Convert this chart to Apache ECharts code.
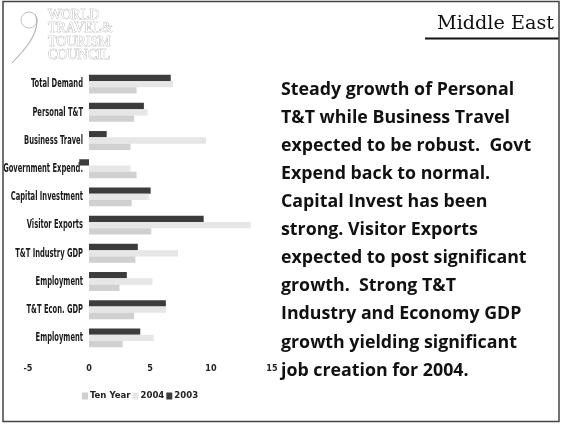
<!DOCTYPE html>
<html>
<head>
  <meta charset="utf-8">
  <script src="https://cdn.jsdelivr.net/npm/echarts@6/dist/echarts.min.js"></script>
  <style>
    html, body { margin: 0; padding: 0; background: #fff; }
    #main { width: 561px; height: 424px; }
  </style>
</head>
<body>
  <div id="main"></div>
  <script type="text/javascript">
    // categories (top to bottom)
    var categories = ['Total Demand', 'Personal T&T', 'Business Travel', 'Government Expend.',
      'Capital Investment', 'Visitor Exports', 'T&T Industry GDP', 'Employment',
      'T&T Econ. GDP', 'Employment '];
    // growth values
    var y2003 = [6.7, 4.5, 1.45, -0.8, 5.05, 9.4, 4.0, 3.1, 6.3, 4.2];
    var y2004 = [6.9, 4.8, 9.6, 3.4, 4.9, 13.25, 7.3, 5.2, 6.3, 5.3];
    var tenYear = [3.9, 3.7, 3.4, 3.9, 3.5, 5.1, 3.8, 2.5, 3.7, 2.75];
    var xTicks = [-5, 0, 5, 10, 15];

    var note = ['Steady growth of Personal', 'T&T while Business Travel',
      'expected to be robust.  Govt', 'Expend back to normal.',
      'Capital Invest has been', 'strong. Visitor Exports',
      'expected to post significant', 'growth.  Strong T&T',
      'Industry and Economy GDP', 'growth yielding significant',
      'job creation for 2004.'];

    var narrow = '"Liberation Sans Narrow", "DejaVu Sans Condensed", sans-serif';
    var serif = '"DejaVu Serif", "Liberation Serif", serif';

    // category labels drawn squeezed, positioned by the y axis scale
    function renderLabel(params, api) {
      var p = api.coord([0, api.value(1)]);
      var i = api.value(1);
      return {
        type: 'text', x: p[0] - 6, y: p[1], scaleX: 0.6,
        style: {
          text: categories[i].trim(), align: 'right', verticalAlign: 'middle',
          fontSize: 12.5, fontWeight: 'bold', fontFamily: narrow, fill: '#1a1a1a'
        }
      };
    }

    var myChart = echarts.init(document.getElementById('main'));
    var option = {
      animation: false,
      grid: { left: 28, width: 244, top: 70, height: 282, outerBoundsMode: 'none' },
      legend: {
        data: ['Ten Year', '2004', '2003'],
        left: 77, top: 386,
        itemWidth: 6, itemHeight: 7, itemGap: 2,
        icon: 'rect',
        textStyle: { fontFamily: narrow, fontWeight: 'bold', fontSize: 9.5, color: '#222', padding: [0, 0, 0, -3] }
      },
      xAxis: {
        type: 'value', min: -5, max: 15, interval: 5,
        axisLine: { show: false }, axisTick: { show: false },
        splitLine: { show: false },
        axisLabel: {
          fontFamily: narrow, fontWeight: 'bold', fontSize: 9, color: '#222', margin: 12,
          formatter: function (v) { return xTicks.indexOf(v) >= 0 ? String(v) : ''; }
        }
      },
      yAxis: {
        type: 'category', data: categories, inverse: true,
        axisLine: { show: false }, axisTick: { show: false },
        axisLabel: { show: false }
      },
      series: [
        { name: '2003', type: 'bar', data: y2003, itemStyle: { color: '#3c3c3c' }, barGap: '0%', barCategoryGap: '33%' },
        { name: '2004', type: 'bar', data: y2004, itemStyle: { color: '#e6e6e6' } },
        { name: 'Ten Year', type: 'bar', data: tenYear, itemStyle: { color: '#d0d0d0' } },
        {
          name: 'labels', type: 'custom', renderItem: renderLabel, clip: false, silent: true,
          data: categories.map(function (c, i) { return [0, i]; }),
          encode: { x: 0, y: 1 }
        }
      ],
      graphic: [
        { type: 'rect', shape: { x: 3, y: 1.5, width: 556, height: 420 }, style: { fill: 'none', stroke: '#444', lineWidth: 1.5 }, z: 100 },
        { type: 'text', x: 437, y: 14.5, style: { text: 'Middle East', fontSize: 19.2, fontFamily: serif, fill: '#111' } },
        { type: 'rect', shape: { x: 425, y: 37.5, width: 134, height: 2 }, style: { fill: '#111' } },
        {
          type: 'text', x: 281, y: 75.5,
          style: { text: note.join('\n'), fontSize: 17.8, fontWeight: 'bold', fontFamily: '"Open Sans", Lato, sans-serif', lineHeight: 28.1, fill: '#111' }
        },
        // logo swoosh
        { type: 'circle', shape: { cx: 29, cy: 20, r: 8 }, style: { fill: 'none', stroke: '#b0b0b0', lineWidth: 0.8 } },
        { type: 'bezierCurve', shape: { x1: 37, y1: 18, x2: 12, y2: 63, cpx1: 38, cpy1: 37, cpx2: 22, cpy2: 51 }, style: { fill: 'none', stroke: '#b0b0b0', lineWidth: 0.8 } },
        { type: 'bezierCurve', shape: { x1: 35, y1: 14, x2: 12, y2: 63, cpx1: 42, cpy1: 31, cpx2: 26, cpy2: 49 }, style: { fill: 'none', stroke: '#b0b0b0', lineWidth: 0.8 } },
        {
          type: 'text', x: 48, y: 8.5,
          style: {
            text: 'WORLD\nTRAVEL&\nTOURISM\nCOUNCIL', fontSize: 14, fontFamily: '"Liberation Serif", serif',
            lineHeight: 13.4, fill: '#fff', stroke: '#a8a8a8', lineWidth: 0.7
          }
        }
      ]
    };
    myChart.setOption(option);
  </script>
</body>
</html>
